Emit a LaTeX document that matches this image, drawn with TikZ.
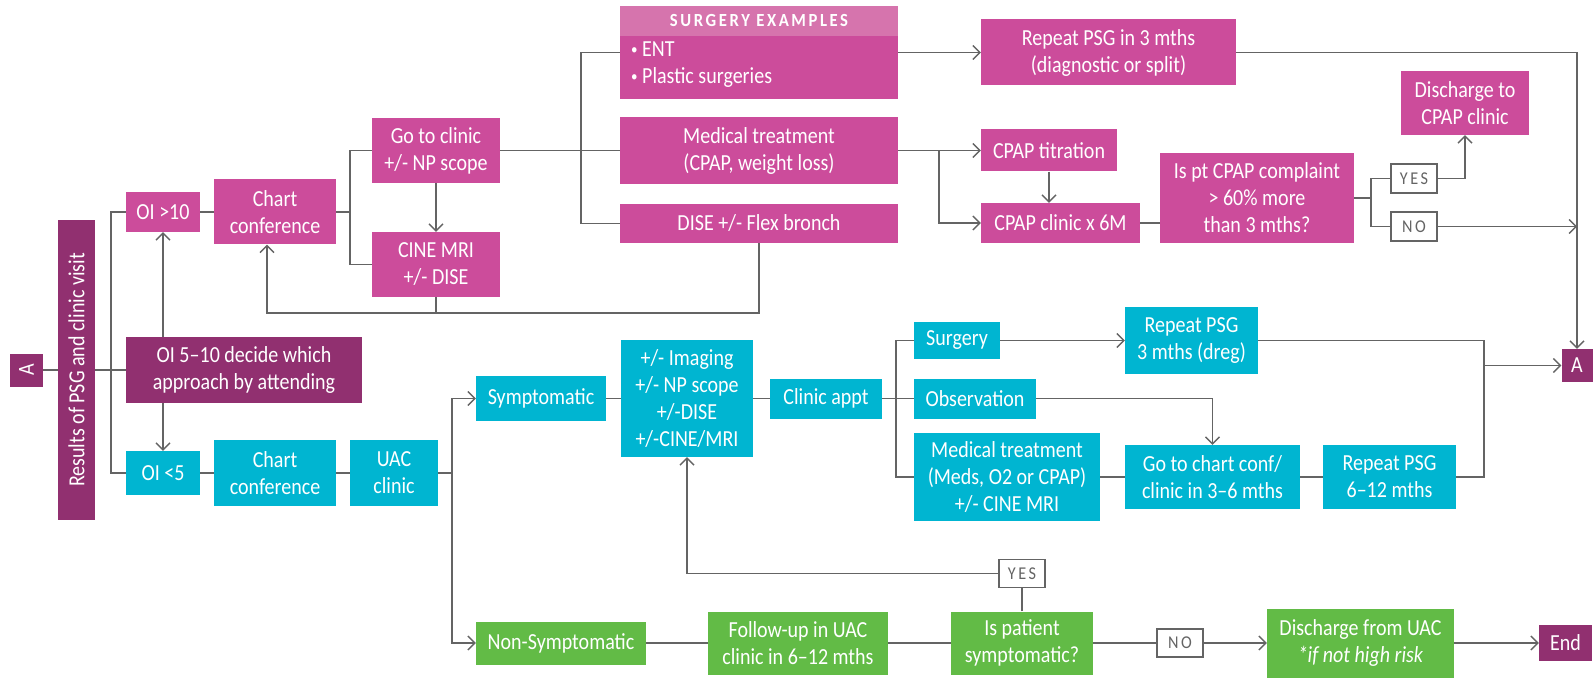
\documentclass[tikz,border=0pt]{standalone}
\usepackage{fontspec}
\setmainfont{Carlito}[FakeStretch=0.87]
\newfontfamily\spacedFont[LetterSpace=14, FakeStretch=0.9]{Carlito}
\usepackage{graphicx}
\usepackage{tikz}
\usetikzlibrary{arrows.meta}
\definecolor{pinkColor}{RGB}{204,76,155}
\definecolor{headColor}{RGB}{214,116,173}
\definecolor{darkColor}{RGB}{145,48,112}
\definecolor{blueColor}{RGB}{0,181,209}
\definecolor{greenColor}{RGB}{98,187,70}
\definecolor{lineColor}{RGB}{100,100,100}
\newcommand{\boxFont}{\fontsize{23}{27}\selectfont}
\newcommand{\headFont}{\spacedFont\bfseries\fontsize{18.5}{18.5}\selectfont}
\newcommand{\tagFont}{\spacedFont\fontsize{18}{18}\selectfont}
\newcommand{\smallBullet}{\raisebox{2pt}{\fontsize{15}{15}\selectfont •}}
\tikzstyle{chart} = [x = 1pt, y = -1pt]
\tikzstyle{flowBox} = [inner sep=0pt, align=center, text=white, font=\boxFont]
\tikzstyle{pinkBox} = [flowBox, fill=pinkColor]
\tikzstyle{darkBox} = [flowBox, fill=darkColor]
\tikzstyle{blueBox} = [flowBox, fill=blueColor]
\tikzstyle{greenBox} = [flowBox, fill=greenColor]
\tikzstyle{headBox} = [inner sep=0pt, fill=headColor, text=white, font=\headFont]
\tikzstyle{tagBox} = [inner sep=0pt, draw=lineColor, line width=1.4pt, fill=white, text=lineColor, font=\tagFont]
\tikzstyle{flowLine} = [draw=lineColor, line width=1.4pt]
\tikzstyle{flowArrow} = [flowLine, -{Straight Barb[length=7pt, width=14pt]}]
\newcommand{\placeBox}[6]{\node [#1, minimum width=#4, minimum height=#5] (#2) at (#3) {#6};}

\begin{document}
\begin{tikzpicture}[chart]
    \fill [white] (0,0) rectangle (1596,679);
    \useasboundingbox (0,0) rectangle (1596,679);
    % start and the three OI groups
    \placeBox{darkBox}{aLeft}{26.5,370}{33}{33}{\rotatebox{90}{A}}
    \placeBox{darkBox}{results}{76.5,370}{37}{300}{\rotatebox{90}{Results of PSG and clinic visit}}
    \placeBox{pinkBox}{oiHigh}{163,212}{74}{40}{OI >10}
    \placeBox{pinkBox}{chartPink}{275,212}{122}{65}{Chart\\conference}
    \placeBox{pinkBox}{goClinic}{436,150.5}{128}{65}{Go to clinic\\+/- NP scope}
    \placeBox{pinkBox}{cineMri}{436,264.5}{128}{65}{CINE MRI\\+/- DISE}
    \placeBox{darkBox}{oiMid}{244,370}{236}{66}{OI 5–10 decide which\\approach by attending}
    \placeBox{blueBox}{oiLow}{163,473}{74}{44}{OI <5}
    \placeBox{blueBox}{chartBlue}{275,473}{122}{66}{Chart\\conference}
    \placeBox{blueBox}{uacClinic}{394,473}{88}{66}{UAC\\clinic}
    % pink branch
    \placeBox{pinkBox}{surgery}{759,52.5}{278}{93}{}
    \node [headBox, minimum width=278, minimum height=30, anchor=north] (surgeryHead) at (surgery.north) {SURGERY EXAMPLES};
    \node [flowBox, anchor=west, align=left] (surgeryList) at (631,65) {\smallBullet\ ENT\\\smallBullet\ Plastic surgeries};
    \placeBox{pinkBox}{medPink}{759,150.5}{278}{67}{Medical treatment\\(CPAP, weight loss)}
    \placeBox{pinkBox}{dise}{759,223.5}{278}{39}{DISE +/- Flex bronch}
    \placeBox{pinkBox}{repeatDiag}{1108.5,52.5}{255}{66}{Repeat PSG in 3 mths\\(diagnostic or split)}
    \placeBox{pinkBox}{cpapTitr}{1049,150.5}{136}{42}{CPAP titration}
    \placeBox{pinkBox}{cpapClinic}{1060.5,223}{159}{40}{CPAP clinic x 6M}
    \placeBox{pinkBox}{isPt}{1257,198}{194}{90}{Is pt CPAP complaint\\> 60\% more\\than 3 mths?}
    \placeBox{pinkBox}{dischCpap}{1465,103}{128}{64}{Discharge to\\CPAP clinic}
    \placeBox{tagBox}{yesTop}{1414,178.5}{46}{29}{YES}
    \placeBox{tagBox}{noTop}{1414,226.5}{46}{29}{NO}
    \placeBox{darkBox}{aRight}{1577,365.5}{31}{33}{A}
    % blue branch
    \placeBox{blueBox}{sympt}{541,398.5}{130}{45}{Symptomatic}
    \placeBox{blueBox}{imaging}{687,398.5}{132}{117}{+/- Imaging\\+/- NP scope\\+/-DISE\\+/-CINE/MRI}
    \placeBox{blueBox}{clinicAppt}{826,398.5}{112}{40}{Clinic appt}
    \placeBox{blueBox}{surgBlue}{957,340.5}{86}{37}{Surgery}
    \placeBox{blueBox}{observ}{975,398.5}{122}{40}{Observation}
    \placeBox{blueBox}{medBlue}{1007,477}{186}{88}{Medical treatment\\(Meds, O2 or CPAP)\\+/- CINE MRI}
    \placeBox{blueBox}{repeatDreg}{1191.5,340.5}{133}{67}{Repeat PSG\\3 mths (dreg)}
    \placeBox{blueBox}{goConf}{1212.5,477}{175}{64}{Go to chart conf/\\clinic in 3–6 mths}
    \placeBox{blueBox}{repeatLong}{1389.5,477}{133}{64}{Repeat PSG\\6–12 mths}
    % green branch
    \placeBox{greenBox}{nonSympt}{561,643}{170}{43}{Non-Symptomatic}
    \placeBox{greenBox}{followUp}{798,643}{180}{63}{Follow-up in UAC\\clinic in 6–12 mths}
    \placeBox{greenBox}{isPatient}{1022,643}{142}{63}{Is patient\\symptomatic?}
    \placeBox{tagBox}{noBottom}{1180,643}{46}{28}{NO}
    \placeBox{greenBox}{dischUac}{1360.5,643}{187}{69}{Discharge from UAC\\\textit{*if not high risk}}
    \placeBox{darkBox}{endNode}{1565.5,643}{53}{36}{End}
    \placeBox{tagBox}{yesBottom}{1022,573.5}{46}{28}{YES}
    % split points
    \coordinate (splitA) at (111,370);
    \coordinate (splitB) at (350,212);
    \coordinate (splitC) at (581,150.5);
    \coordinate (splitD) at (939,150.5);
    \coordinate (splitE) at (1371,198);
    \coordinate (splitF) at (452,473);
    \coordinate (splitG) at (896,398.5);
    \coordinate (splitH) at (1484,365.5);
    \coordinate (loopBack) at (0,313);
    % connectors, top
    \draw [flowLine] (aLeft) -- (results);
    \draw [flowLine] (results) -- (oiMid);
    \draw [flowLine] (oiHigh.west) -| (splitA) |- (oiLow.west);
    \draw [flowArrow] (oiMid.north -| oiHigh) -- (oiHigh.south);
    \draw [flowArrow] (oiMid.south -| oiLow) -- (oiLow.north);
    \draw [flowLine] (oiHigh) -- (chartPink);
    \draw [flowLine] (chartPink.east) -- (splitB);
    \draw [flowLine] (goClinic.west) -| (splitB) |- (cineMri.west);
    \draw [flowArrow] (goClinic) -- (cineMri);
    \draw [flowLine] (goClinic) -- (medPink);
    \draw [flowLine] (surgery.west) -| (splitC) |- (dise.west);
    \draw [flowArrow] (surgery) -- (repeatDiag);
    \draw [flowLine] (cineMri.south) -- (cineMri.south |- loopBack);
    \draw [flowArrow] (dise.south) |- ([xshift=-8pt]loopBack -| chartPink) -- ([xshift=-8pt]chartPink.south);
    \draw [flowArrow] (medPink) -- (cpapTitr);
    \draw [flowArrow] (splitD) |- (cpapClinic.west);
    \draw [flowArrow] (cpapTitr) -- (cpapTitr |- cpapClinic.north);
    \draw [flowLine] (cpapClinic.east) -- (cpapClinic.east -| isPt.west);
    \draw [flowLine] (isPt) -- (splitE);
    \draw [flowLine] (yesTop.west) -| (splitE) |- (noTop.west);
    \draw [flowArrow] (yesTop.east) -| (dischCpap.south);
    \draw [flowArrow] (noTop.east) -- (noTop.east -| aRight);
    \draw [flowArrow] (repeatDiag.east) -| (aRight.north);
    % connectors, bottom
    \draw [flowLine] (uacClinic) -- (chartBlue);
    \draw [flowLine] (chartBlue) -- (oiLow);
    \draw [flowLine] (uacClinic) -- (splitF);
    \draw [flowArrow] (splitF) |- (sympt.west);
    \draw [flowArrow] (splitF) |- (nonSympt.west);
    \draw [flowLine] (sympt) -- (imaging);
    \draw [flowLine] (imaging) -- (clinicAppt);
    \draw [flowLine] (clinicAppt) -- (observ);
    \draw [flowLine] (surgBlue.west) -| (splitG) |- (medBlue.west);
    \draw [flowArrow] (surgBlue) -- (repeatDreg);
    \draw [flowArrow] (observ.east) -| (goConf.north);
    \draw [flowLine] (medBlue) -- (goConf);
    \draw [flowLine] (goConf) -- (repeatLong);
    \draw [flowLine] (repeatDreg.east) -| (splitH) |- (repeatLong.east);
    \draw [flowArrow] (splitH) -- (aRight.west);
    \draw [flowLine] (nonSympt) -- (followUp);
    \draw [flowLine] (followUp) -- (isPatient);
    \draw [flowLine] (isPatient) -- (noBottom);
    \draw [flowArrow] (noBottom) -- (dischUac);
    \draw [flowArrow] (dischUac) -- (endNode);
    \draw [flowLine] (isPatient) -- (yesBottom);
    \draw [flowArrow] (yesBottom.west) -| (imaging.south);
\end{tikzpicture}
\end{document}
